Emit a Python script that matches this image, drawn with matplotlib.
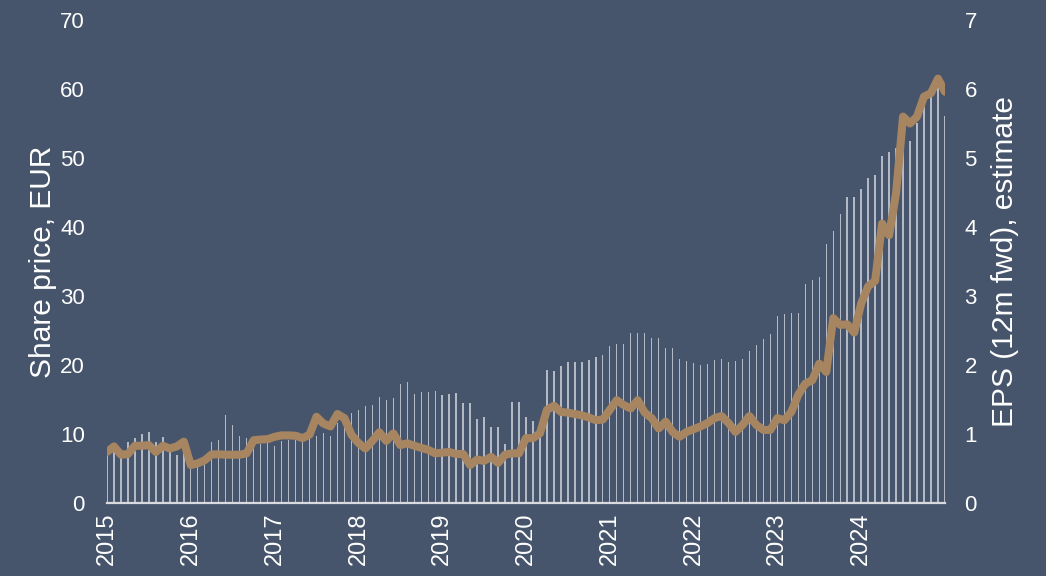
import matplotlib
matplotlib.use("Agg")
import matplotlib.pyplot as plt
import numpy as np

plt.rcParams.update({
    "font.family": ["Liberation Sans", "DejaVu Sans"],
    "font.size": 16,
})

BG = "#46556b"
LINE = "#a68560"
BAR = "#c8cdd6"
TXT = "#ffffff"

# monthly, Jan 2015 .. Jan 2025
years = [str(y) for y in range(2015, 2025)]

share_price = [
    7.4, 8.2, 7.0, 7.1, 8.3, 8.3, 8.4, 7.4, 8.3, 7.9, 8.2, 8.9,
    5.5, 5.75, 6.2, 7.05, 7.05, 7.0, 7.0, 7.0, 7.2, 9.1, 9.2, 9.25,
    9.6, 9.8, 9.8, 9.75, 9.4, 9.9, 12.5, 11.5, 11.1, 12.9, 12.3, 9.9,
    8.7, 7.9, 9.0, 10.25, 9.0, 10.1, 8.4, 8.65, 8.3, 8.0, 7.7, 7.2,
    7.3, 7.4, 7.1, 7.1, 5.5, 6.3, 6.1, 6.7, 5.8, 7.0, 7.2, 7.2,
    9.4, 9.4, 10.1, 13.5, 14.1, 13.2, 13.1, 12.9, 12.7, 12.4, 12.0, 12.1,
    13.5, 14.9, 14.2, 13.7, 14.9, 13.1, 12.3, 10.8, 11.8, 10.3, 9.6, 10.3,
    10.7, 11.1, 11.6, 12.3, 12.6, 11.6, 10.3, 11.3, 12.6, 11.3, 10.6, 10.6,
    12.3, 12.0, 13.2, 15.7, 17.3, 17.8, 20.2, 19.0, 26.8, 25.8, 25.9, 24.7,
    28.9, 31.4, 32.2, 40.5, 38.8, 44.9, 56.0, 55.0, 56.0, 58.9, 59.4, 61.5,
    59.6,
]

eps_fwd = [
    0.77, 0.80, 0.67, 0.88, 0.94, 1.00, 1.03, 0.89, 0.95, 0.82, 0.69, 0.90,
    0.52, 0.55, 0.58, 0.89, 0.92, 1.28, 1.13, 0.97, 0.94, 0.95, 0.86, 0.87,
    0.83, 0.90, 0.91, 0.92, 0.92, 0.95, 0.97, 1.01, 0.97, 1.16, 1.26, 1.31,
    1.35, 1.41, 1.42, 1.53, 1.49, 1.52, 1.72, 1.75, 1.58, 1.61, 1.61, 1.62,
    1.57, 1.58, 1.60, 1.45, 1.45, 1.22, 1.24, 1.10, 1.10, 0.86, 1.47, 1.46,
    1.24, 1.19, 1.15, 1.93, 1.92, 1.99, 2.04, 2.04, 2.05, 2.07, 2.11, 2.14,
    2.28, 2.30, 2.30, 2.47, 2.47, 2.47, 2.39, 2.39, 2.25, 2.24, 2.08, 2.06,
    2.03, 2.00, 2.01, 2.07, 2.09, 2.05, 2.06, 2.08, 2.20, 2.29, 2.37, 2.45,
    2.71, 2.74, 2.75, 2.76, 3.18, 3.23, 3.28, 3.75, 3.94, 4.19, 4.43, 4.43,
    4.55, 4.71, 4.75, 5.03, 5.08, 5.15, 5.20, 5.25, 5.50, 5.75, 5.90, 6.05,
    5.61,
]

x = np.arange(len(share_price))

fig = plt.figure(figsize=(10.46, 5.76), dpi=100, facecolor=BG)
ax = fig.add_axes([0.1023, 0.1267, 0.8011, 0.8386])
ax2 = ax.twinx()
ax.set_zorder(ax2.get_zorder() + 1)
ax.patch.set_visible(False)
ax2.set_facecolor(BG)

ax2.bar(x, eps_fwd, width=0.2, color=BAR, alpha=0.85, linewidth=0)
ax.plot(x, share_price, color=LINE, lw=5.8, solid_joinstyle="round",
        solid_capstyle="round")

ax.set_xlim(0, len(share_price) - 1)
ax.set_ylim(0, 70)
ax2.set_ylim(0, 7)
ax.set_yticks(range(0, 71, 10))
ax2.set_yticks(range(0, 8))
ax.set_xticks(x[::12][:len(years)])
ax.set_xticklabels(years, rotation=90)

for a in (ax, ax2):
    for s in a.spines.values():
        s.set_visible(False)
    a.tick_params(length=0, colors=TXT, labelsize=16)
ax.spines["bottom"].set_visible(True)
ax.spines["bottom"].set_color("#d8dadf")
ax.spines["bottom"].set_linewidth(1.6)
ax.tick_params(axis="y", pad=16)
ax.tick_params(axis="x", pad=7, labelsize=17)
ax2.tick_params(axis="y", pad=14)

ax.set_ylabel("Share price, EUR", color=TXT, fontsize=21.5, labelpad=2)
ax2.set_ylabel("EPS (12m fwd), estimate", color=TXT, fontsize=21.5, labelpad=10)

fig.savefig("out.png", facecolor=BG)
